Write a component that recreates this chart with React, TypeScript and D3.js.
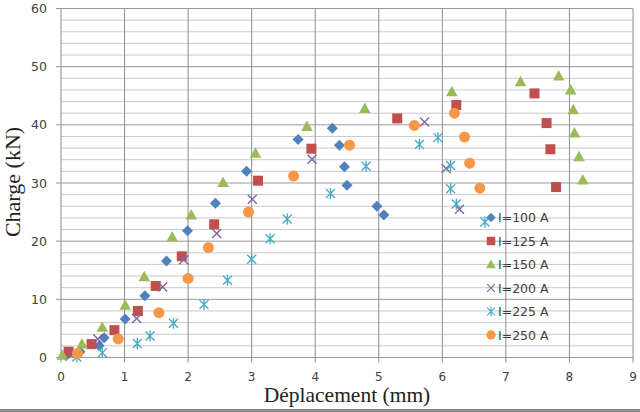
import * as d3 from "d3";

// Excel-style scatter: load vs displacement for 6 welding currents
const series100X = [0.08, 0.3, 0.6, 0.68, 1.01, 1.32, 1.66, 1.99, 2.43, 2.92, 3.73, 4.27, 4.38, 4.46, 4.5, 4.97, 5.08];
const series100Y = [0.3, 1.0, 2.0, 3.4, 6.6, 10.6, 16.6, 21.8, 26.5, 32.0, 37.5, 39.4, 36.5, 32.8, 29.6, 26.0, 24.5];

const series125X = [0.12, 0.48, 0.84, 1.21, 1.49, 1.9, 2.41, 3.1, 3.94, 5.29, 6.22, 7.45, 7.64, 7.7, 7.79];
const series125Y = [1.0, 2.3, 4.7, 8.0, 12.3, 17.4, 22.9, 30.4, 35.9, 41.1, 43.4, 45.4, 40.3, 35.8, 29.3];

const series150X = [0.02, 0.33, 0.65, 1.01, 1.31, 1.75, 2.05, 2.55, 3.06, 3.87, 4.78, 6.15, 7.23, 7.83, 8.02, 8.06, 8.08, 8.15, 8.21];
const series150Y = [0.4, 2.3, 5.2, 9.0, 13.9, 20.7, 24.5, 30.1, 35.1, 39.7, 42.8, 45.7, 47.4, 48.4, 46.0, 42.6, 38.6, 34.5, 30.5];

const series200X = [0.18, 0.58, 1.19, 1.6, 1.93, 2.45, 3.01, 3.95, 5.72, 6.06, 6.27];
const series200Y = [0.6, 3.2, 6.7, 12.1, 16.8, 21.3, 27.2, 34.1, 40.5, 32.5, 25.5];

const series225X = [0.25, 0.65, 1.2, 1.4, 1.77, 2.25, 2.62, 3.0, 3.29, 3.56, 4.24, 4.8, 5.64, 5.93, 6.13, 6.13, 6.22, 6.67];
const series225Y = [0.1, 0.8, 2.4, 3.7, 5.9, 9.1, 13.3, 16.9, 20.4, 23.8, 28.2, 32.9, 36.6, 37.8, 33.0, 29.0, 26.4, 23.3];

const series250X = [0.26, 0.9, 1.54, 2.0, 2.32, 2.95, 3.66, 4.54, 5.56, 6.19, 6.35, 6.43, 6.59];
const series250Y = [0.7, 3.2, 7.7, 13.6, 18.9, 25.0, 31.2, 36.5, 39.9, 42.0, 37.9, 33.4, 29.1];

const seriesNames = ["I=100 A", "I=125 A", "I=150 A", "I=200 A", "I=225 A", "I=250 A"];
const xTicks = [0, 1, 2, 3, 4, 5, 6, 7, 8, 9];
const yTicks = [0, 10, 20, 30, 40, 50, 60];

type Shape = "diamond" | "square" | "triangle" | "x" | "star" | "circle";

const SERIES = [
  { name: seriesNames[0], xs: series100X, ys: series100Y, color: "#4F81BD", shape: "diamond" as Shape },
  { name: seriesNames[1], xs: series125X, ys: series125Y, color: "#C0504D", shape: "square" as Shape },
  { name: seriesNames[2], xs: series150X, ys: series150Y, color: "#9BBB59", shape: "triangle" as Shape },
  { name: seriesNames[3], xs: series200X, ys: series200Y, color: "#8064A2", shape: "x" as Shape },
  { name: seriesNames[4], xs: series225X, ys: series225Y, color: "#4BACC6", shape: "star" as Shape },
  { name: seriesNames[5], xs: series250X, ys: series250Y, color: "#F79646", shape: "circle" as Shape },
];

const W = 640;
const H = 412;
const PLOT = { left: 61, right: 633, top: 8.5, bottom: 357.5 };

const x = d3.scaleLinear().domain([0, 9]).range([PLOT.left, PLOT.right]);
const y = d3.scaleLinear().domain([0, 60]).range([PLOT.bottom, PLOT.top]);
const minorY = d3.range(0, 61, 2).filter((v) => v % 10 !== 0);

function Marker({ shape, color, cx, cy, s = 1 }: { shape: Shape; color: string; cx: number; cy: number; s?: number }) {
  const t = `translate(${cx},${cy}) scale(${s})`;
  if (shape === "diamond") return <path transform={t} d="M0,-5.5L5.5,0L0,5.5L-5.5,0Z" fill={color} />;
  if (shape === "square") return <rect transform={t} x={-5} y={-5} width={10} height={10} fill={color} />;
  if (shape === "triangle") return <path transform={t} d="M0,-6L5.8,4.5L-5.8,4.5Z" fill={color} />;
  if (shape === "circle") return <circle transform={t} r={5.5} fill={color} />;
  if (shape === "x")
    return <path transform={t} d="M-4.5,-4.5L4.5,4.5M-4.5,4.5L4.5,-4.5" stroke={color} strokeWidth={1.4} fill="none" />;
  return (
    <path transform={t} d="M-4.5,-4.5L4.5,4.5M-4.5,4.5L4.5,-4.5M0,-5.5L0,5.5" stroke={color} strokeWidth={1.4} fill="none" />
  );
}

export default function App() {
  const tickFont = "DejaVu Sans, sans-serif";
  const titleFont = "Liberation Serif, Times New Roman, serif";
  return (
    <svg width={W} height={H} style={{ position: "absolute", left: 0, top: 0, background: "#fff" }}>
      {/* minor horizontal grid */}
      {minorY.map((v) => (
        <line key={"m" + v} x1={PLOT.left} x2={PLOT.right} y1={y(v)} y2={y(v)} stroke="#c9c9c9" strokeWidth={1} />
      ))}
      {/* major horizontal grid */}
      {yTicks.map((v) => (
        <line key={"h" + v} x1={PLOT.left - 5} x2={PLOT.right} y1={y(v)} y2={y(v)} stroke="#9a9a9a" strokeWidth={1} />
      ))}
      {/* vertical grid */}
      {xTicks.map((v) => (
        <line key={"v" + v} x1={x(v)} x2={x(v)} y1={PLOT.top} y2={PLOT.bottom + 5} stroke="#8c8c8c" strokeWidth={1} />
      ))}

      {/* tick labels */}
      {yTicks.map((v) => (
        <text key={"yt" + v} x={47} y={y(v) + 4.5} textAnchor="end" fontFamily={tickFont} fontSize={12.5} fill="#404040">
          {v}
        </text>
      ))}
      {xTicks.map((v) => (
        <text key={"xt" + v} x={x(v)} y={381} textAnchor="middle" fontFamily={tickFont} fontSize={12} fill="#404040">
          {v}
        </text>
      ))}

      {/* axis titles */}
      <text x={347} y={402} textAnchor="middle" fontFamily={titleFont} fontSize={21.5} fill="#222">
        Déplacement (mm)
      </text>
      <text
        transform="translate(20,182) rotate(-90)"
        textAnchor="middle"
        fontFamily={titleFont}
        fontSize={22}
        fill="#222"
      >
        Charge (kN)
      </text>

      {/* data */}
      {SERIES.map((s) => (
        <g key={s.name}>
          {s.xs.map((xv, i) => (
            <Marker key={i} shape={s.shape} color={s.color} cx={x(xv)} cy={y(s.ys[i])} />
          ))}
        </g>
      ))}

      {/* legend */}
      {SERIES.map((s, i) => {
        const ly = 217.5 + i * 23.5;
        return (
          <g key={"lg" + s.name}>
            <Marker shape={s.shape} color={s.color} cx={491} cy={ly} s={0.85} />
            <text x={498} y={ly + 4.5} fontFamily={tickFont} fontSize={12.5} fill="#404040">
              {s.name}
            </text>
          </g>
        );
      })}

      {/* bottom frame line */}
      <rect x={0} y={409} width={W} height={3} fill="#8a8a8a" />
    </svg>
  );
}
